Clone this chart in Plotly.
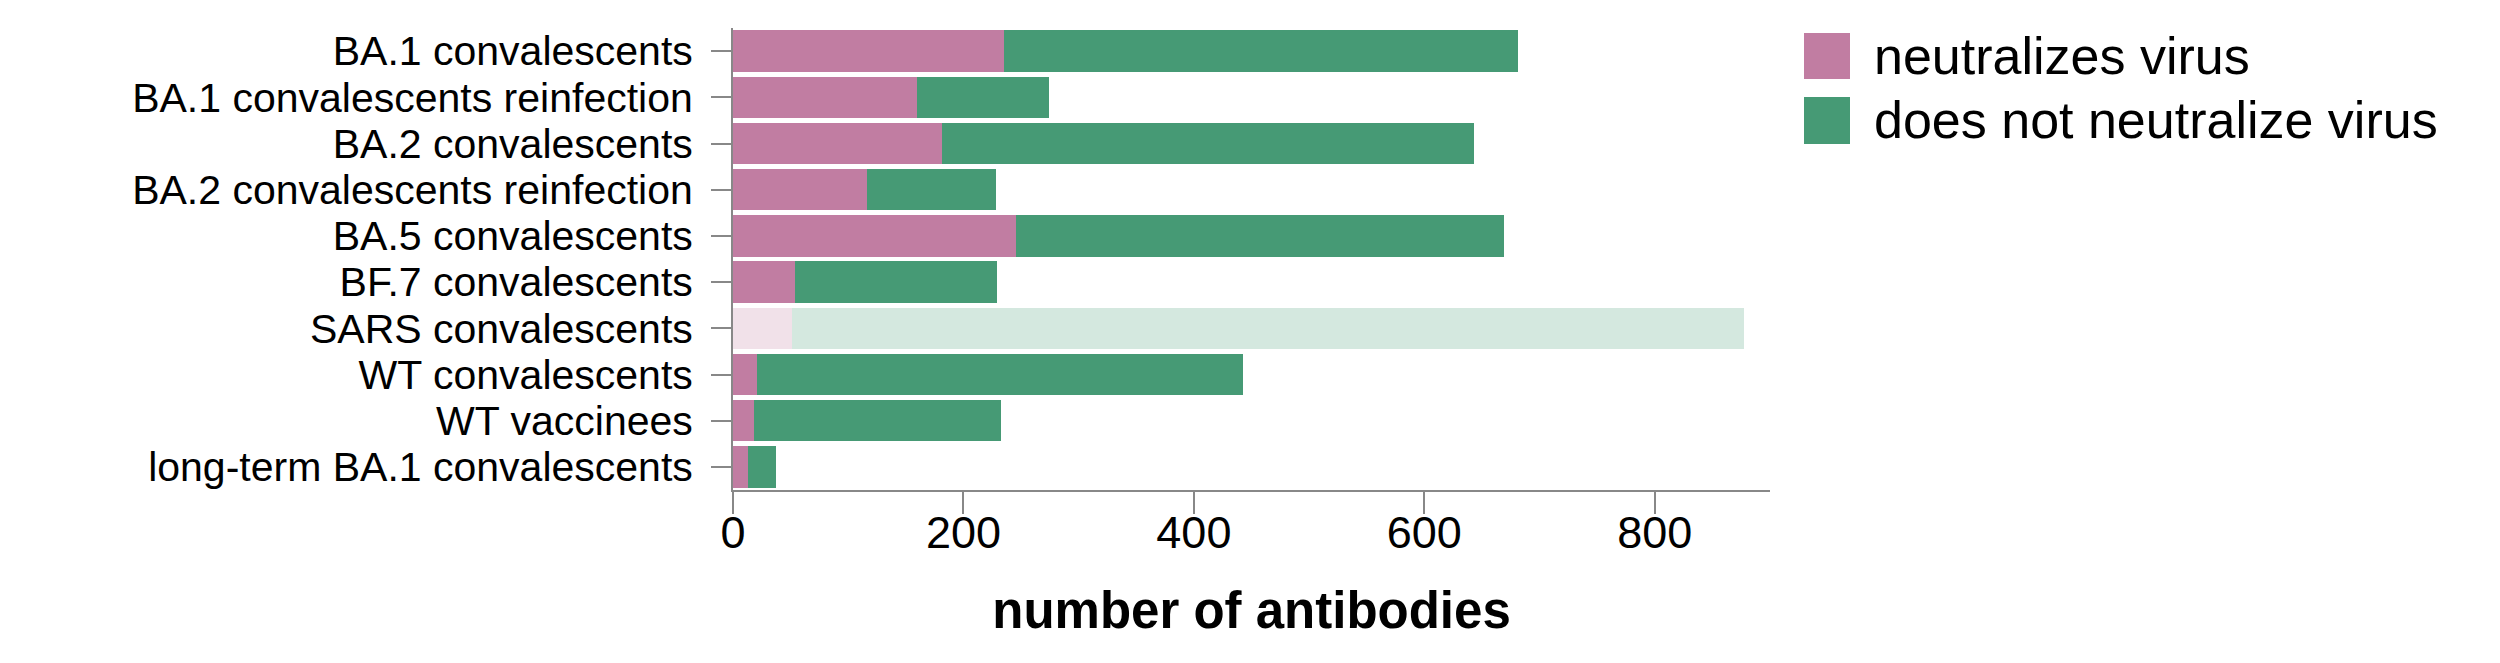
import plotly.graph_objects as go

categories = [
    "BA.1 convalescents",
    "BA.1 convalescents reinfection",
    "BA.2 convalescents",
    "BA.2 convalescents reinfection",
    "BA.5 convalescents",
    "BF.7 convalescents",
    "SARS convalescents",
    "WT convalescents",
    "WT vaccinees",
    "long-term BA.1 convalescents",
]
neutralizing = [235, 160, 181, 116, 246, 54, 51, 21, 18, 13]
non_neutralizing = [446, 114, 462, 112, 423, 175, 826, 422, 215, 24]
faded_groups = ["SARS convalescents"]
series_names = ["neutralizes virus", "does not neutralize virus"]
x_ticks = [0, 200, 400, 600, 800]

PINK = "#C17DA2"
GREEN = "#469A75"
FONT = "Liberation Sans, Arial, Helvetica, sans-serif"

opac = [0.23 if c in faded_groups else 1.0 for c in categories]

fig = go.Figure()
fig.add_trace(go.Bar(
    y=categories, x=neutralizing, orientation="h", name=series_names[0],
    marker=dict(color=PINK, opacity=opac, line=dict(width=0)),
    showlegend=False,
))
fig.add_trace(go.Bar(
    y=categories, x=non_neutralizing, orientation="h", name=series_names[1],
    marker=dict(color=GREEN, opacity=opac, line=dict(width=0)),
    showlegend=False,
))

# plot area geometry in pixels
L, R, T, B = 725, 1762, 20, 482
W, H = 2500, 663
pw, ph = R - L, B - T

def px(x):
    return (x - L) / pw

def py(y):
    return (B - y) / ph

# manual legend (large swatches)
legend_items = [(series_names[0], PINK, 25, 71), (series_names[1], GREEN, 89, 136)]
for name, col, y0, y1 in legend_items:
    fig.add_shape(type="rect", xref="paper", yref="paper",
                  x0=px(1796), x1=px(1842), y0=py(y1), y1=py(y0),
                  fillcolor=col, line=dict(width=0), layer="above")
    fig.add_annotation(xref="paper", yref="paper", x=px(1864), y=py((y0 + y1) / 2),
                       text=name, showarrow=False, xanchor="left", yanchor="middle",
                       font=dict(family=FONT, size=52, color="black"))

fig.update_layout(
    template="none",
    width=W, height=H,
    barmode="stack", bargap=0.1,
    plot_bgcolor="white", paper_bgcolor="white",
    margin=dict(l=L, r=W - R, t=T, b=H - B, pad=0, autoexpand=False),
    font=dict(family=FONT, color="black"),
    showlegend=False,
)
fig.update_yaxes(
    type="category", categoryorder="array", categoryarray=categories,
    tickmode="array", tickvals=categories, ticktext=categories,
    autorange="reversed", automargin=False,
    showline=True, linecolor="#888888", linewidth=2,
    ticks="outside", ticklen=20, tickwidth=2, tickcolor="#888888",
    tickfont=dict(family=FONT, size=41, color="black"),
    ticklabelstandoff=10,
    showgrid=False, zeroline=False,
)
fig.update_xaxes(
    range=[0, 900], tickmode="array", tickvals=x_ticks, ticktext=[str(v) for v in x_ticks],
    automargin=False,
    showline=True, linecolor="#888888", linewidth=2,
    ticks="outside", ticklen=22, tickwidth=2, tickcolor="#888888",
    tickfont=dict(family=FONT, size=45, color="black"),
    ticklabelstandoff=-20,
    showgrid=False, zeroline=False,
    title=dict(text="<b>number of antibodies</b>", font=dict(family=FONT, size=51, color="black"), standoff=35),
)

fig.write_html("out.html")
